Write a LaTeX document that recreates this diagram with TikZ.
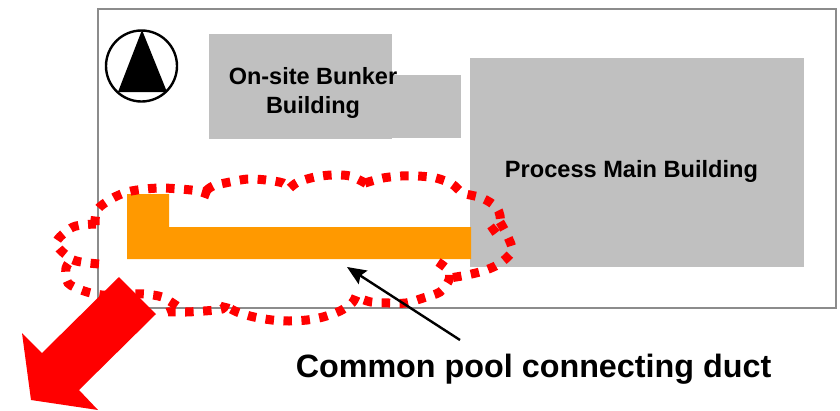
\documentclass[tikz,border=0pt]{standalone}
\usepackage{fontspec}
\setmainfont{Liberation Sans}
\usetikzlibrary{arrows.meta}
\definecolor{blockgray}{HTML}{C0C0C0}
\definecolor{ductorange}{HTML}{FF9900}
\begin{document}
\begin{tikzpicture}[x=1pt, y=-1pt, >={Triangle[length=19pt, width=16pt, inset=3pt]}]
	\tikzstyle{block} = [rectangle, inner sep=0pt, fill=blockgray]
	\tikzstyle{label} = [inner sep=0pt, align=center, font=\bfseries]
	\tikzstyle{lobe}  = [red, line width=9pt, dash pattern=on 8.5pt off 9.5pt]

	\useasboundingbox (0, 0) rectangle (840, 410);

	\node[draw=black!45, line width=1.3pt, inner sep=0pt, minimum width=738pt, minimum height=299pt] (site) at (467, 158.5) {};

	\foreach \name/\x/\y/\w/\h in {bunker/300.5/86.5/183/105, annex/426.5/106.25/69/62.5, process/637/162.5/334/209}
		\node[block, minimum width=\w pt, minimum height=\h pt] (\name) at (\x, \y) {};

	% compass
	\node[circle, draw=black, line width=2.4pt, inner sep=0pt, minimum size=71pt] (compass) at (141.5, 66) {};
	\fill (142, 30) -- (167, 92) -- (118, 92) -- cycle;

	\fill[ductorange] (127, 194) -- (169, 194) -- (169, 227) -- (471, 227) -- (471, 259) -- (127, 259) -- cycle;

	% leak area
	\draw[lobe] plot[smooth] coordinates {(99,264) (81,262) (70,258) (56,243) (73,227) (96,224)};
	\draw[lobe] plot[smooth] coordinates {(95,225) (97,210) (111,199) (127,192) (145,189) (162,188) (180,189) (198,191) (212,196)};
	\draw[lobe] plot[smooth] coordinates {(206,191) (213,186) (230,182) (248,179) (266,180) (283,183) (290,189)};
	\draw[lobe] plot[smooth] coordinates {(290,188) (298,182) (315,177) (332,175) (350,176) (367,184)};
	\draw[lobe] plot[smooth] coordinates {(365,183) (383,178) (401,176) (418,176) (436,178) (452,184) (463,193) (482,198) (497,208) (500,223) (487,234)};
	\draw[lobe] plot[smooth] coordinates {(500,222) (507,235) (512,251) (499,264) (483,271) (467,275) (450,278)};
	\draw[lobe] plot[smooth] coordinates {(438,262) (448,270) (449,280) (440,292) (423,298) (406,303) (389,303) (371,302) (356,297)};
	\draw[lobe] plot[smooth] coordinates {(356,296) (352,303) (340,311) (323,317) (307,320) (289,321) (272,320) (254,317) (237,312) (224,305)};
	\draw[lobe] plot[smooth] coordinates {(226,303) (222,309) (204,311) (186,312) (168,312) (163,316)};
	\draw[lobe] plot[smooth] coordinates {(177,306) (162,297) (144,294) (122,294) (102,295) (84,291) (68,283) (66,268) (72,259)};

	\fill[red] (119, 277) -- (156, 314) -- (79, 390) -- (98, 410) -- (31, 400) -- (22, 333) -- (42, 353) -- cycle;

	\node[label, font=\bfseries\fontsize{23.5}{29}\selectfont] (bunkertext) at (313, 93) {On-site Bunker\\Building};
	\node[label, font=\bfseries\fontsize{23.6}{28}\selectfont] (processtext) at (631.5, 171.5) {Process Main Building};
	\node[label, font=\bfseries\fontsize{32.3}{36}\selectfont] (ducttext) at (533.5, 369) {Common pool connecting duct};

	\coordinate (ducttip) at (347, 267);
	\coordinate (ductfoot) at (460, 340);
	\draw[<-, line width=2.4pt] (ducttip) -- (ductfoot);
\end{tikzpicture}
\end{document}
